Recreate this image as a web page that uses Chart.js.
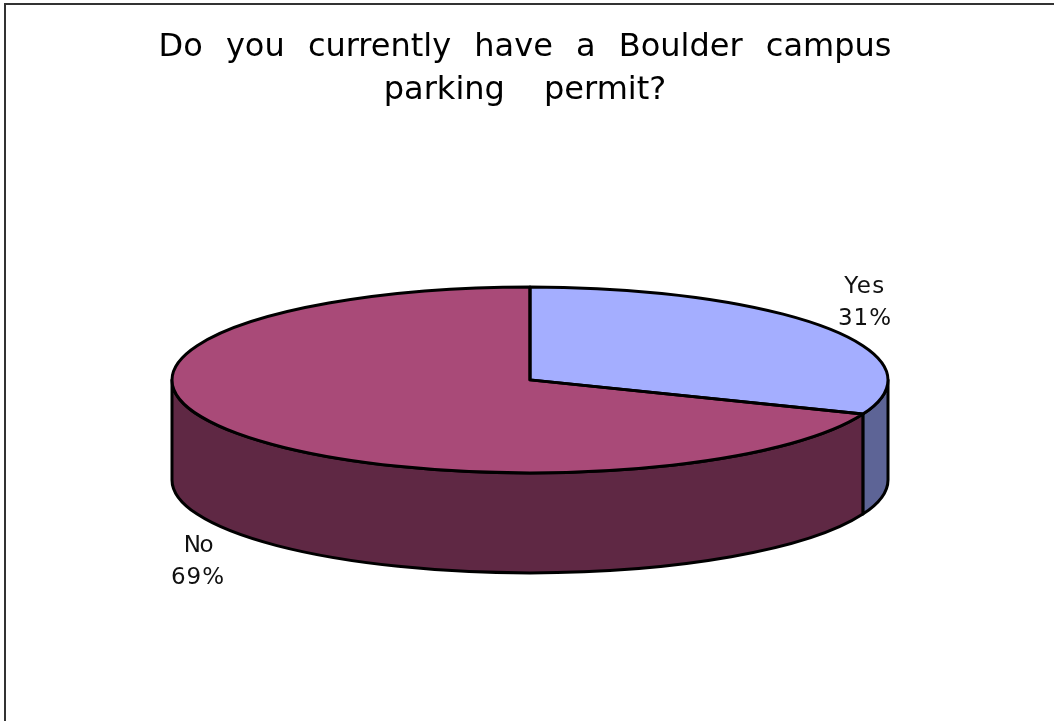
<!DOCTYPE html>
<html>
<head>
<meta charset="utf-8">
<title>Boulder campus parking permit</title>
<script src="https://cdn.jsdelivr.net/npm/chart.js@4"></script>
<style>
    html, body { margin: 0; padding: 0; background: #fff; overflow: hidden; }
    #wrap { position: relative; width: 1054px; height: 721px; }
    #frame { position: absolute; left: 4px; top: 3px; right: -4px; bottom: -4px; border-left: 2px solid #333; border-top: 2px solid #333; }
    canvas { position: absolute; left: 0; top: 0; }
</style>
</head>
<body>
<div id="wrap">
    <div id="frame"></div>
    <canvas id="permitPie" width="1054" height="721"></canvas>
</div>
<script>
const titleLines = ['Do you currently have a Boulder campus', 'parking \u2002permit?'];
const categories = ['Yes', 'No'];
const percentages = [31, 69];
const topColors = ['#a4aeff', '#a94a78'];
const sideColors = ['#5d6496', '#5f2844'];

// the pie is squashed into an ellipse, these are the on-screen sizes
const RX = 358;
const RY = 93;
const DEPTH = 100;
const labelSpots = [{ x: 865, y: 293, y2: 325 }, { x: 198, y: 552, y2: 584 }];

function ellipseSlice(ctx, arc, from, to) {
    ctx.ellipse(arc.x, arc.y, RX, RY, 0, from, to);
}

const pie3d = {
    id: 'pie3d',
    afterLayout(chart) {
        // title sits a little left of the pie centre
        chart.titleBlock.left -= 5;
        chart.titleBlock.right -= 5;
    },
    beforeDraw(chart) {
        chart.ctx.wordSpacing = '13px';
    },
    beforeDatasetsDraw(chart) {
        const ctx = chart.ctx;
        const arcs = chart.getDatasetMeta(0).data;
        ctx.wordSpacing = '0px';

        // side walls, only the front half of the rim can be seen
        ctx.lineWidth = 3;
        ctx.strokeStyle = '#000';
        ctx.lineJoin = 'round';
        arcs.forEach((arc, i) => {
            const from = Math.max(arc.startAngle, 0);
            const to = Math.min(arc.endAngle, Math.PI);
            if (to <= from) return;
            ctx.beginPath();
            ellipseSlice(ctx, arc, from, to);
            ctx.lineTo(arc.x + RX * Math.cos(to), arc.y + RY * Math.sin(to) + DEPTH);
            ctx.ellipse(arc.x, arc.y + DEPTH, RX, RY, 0, to, from, true);
            ctx.closePath();
            ctx.fillStyle = sideColors[i];
            ctx.fill();
            ctx.stroke();
        });

        // library draws the top face inside this transform
        const c = arcs[0];
        ctx.save();
        ctx.translate(c.x, c.y);
        ctx.scale(RX / c.outerRadius, RY / c.outerRadius);
        ctx.translate(-c.x, -c.y);
    },
    afterDatasetsDraw(chart) {
        const ctx = chart.ctx;
        const arcs = chart.getDatasetMeta(0).data;
        ctx.restore();

        ctx.lineWidth = 3;
        ctx.strokeStyle = '#000';
        ctx.lineJoin = 'round';
        arcs.forEach(arc => {
            ctx.beginPath();
            ctx.moveTo(arc.x, arc.y);
            ellipseSlice(ctx, arc, arc.startAngle, arc.endAngle);
            ctx.closePath();
            ctx.stroke();
        });

        ctx.fillStyle = '#111';
        ctx.textAlign = 'center';
        ctx.textBaseline = 'alphabetic';
        ctx.font = '23px "DejaVu Sans"';
        categories.forEach((name, i) => {
            const spot = labelSpots[i];
            ctx.letterSpacing = i === 0 ? '1.5px' : '-1.5px';
            ctx.fillText(name, spot.x, spot.y);
            ctx.letterSpacing = '1px';
            ctx.fillText(percentages[i] + '%', spot.x, spot.y2);
        });
        ctx.letterSpacing = '0px';
    }
};

new Chart(document.getElementById('permitPie').getContext('2d'), {
    type: 'pie',
    data: {
        labels: categories,
        datasets: [{
            data: percentages,
            backgroundColor: topColors,
            borderWidth: 0,
            clip: false
        }]
    },
    options: {
        responsive: false,
        animation: false,
        layout: { padding: { left: 6, right: 0, top: 0, bottom: 93 } },
        plugins: {
            legend: { display: false },
            tooltip: { enabled: false },
            title: {
                display: true,
                text: titleLines,
                color: '#000',
                font: { family: '"DejaVu Sans"', size: 32, weight: 'normal', lineHeight: 1.34 },
                padding: { top: 26, bottom: 20 }
            }
        }
    },
    plugins: [pie3d]
});
</script>
</body>
</html>
